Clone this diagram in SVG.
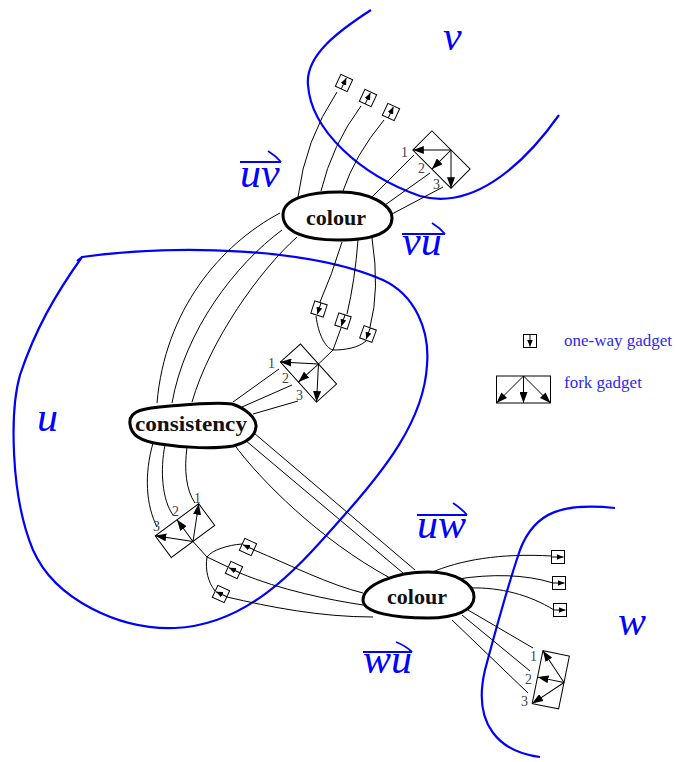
<svg xmlns="http://www.w3.org/2000/svg" xmlns:xlink="http://www.w3.org/1999/xlink" width="677" height="762" viewBox="0 0 677 762">
<style>
  .region { fill: none; stroke: #0000ff; stroke-width: 2.2; }
  .rlabel { font-family: "Liberation Serif", "DejaVu Serif", serif; font-style: italic; font-size: 42px; fill: #0000ff; }
  .vec { fill: none; stroke: #0000ff; stroke-width: 1.8; }
  .wire { fill: none; stroke: #000; stroke-width: 1; }
  .blob { fill: #fff; stroke: #000; stroke-width: 3; }
  .name { font-family: "Liberation Serif", "DejaVu Serif", serif; font-weight: bold; font-size: 20px; fill: #111; }
  .gad { fill: #fff; stroke: #000; stroke-width: 1; }
  .num { font-family: "Liberation Serif", "DejaVu Serif", serif; font-size: 14px; fill: #444; }
  .legend { font-family: "Liberation Serif", "DejaVu Serif", serif; font-size: 17px; fill: #2a2af0; }
</style>
<defs>
  <marker id="ah" viewBox="0 0 11 8" refX="11" refY="4" markerWidth="11" markerHeight="8" markerUnits="userSpaceOnUse" orient="auto">
    <path d="M0,0 L11,4 L0,8 z" fill="#000"/>
  </marker>
  <marker id="ahs" viewBox="0 0 7 6" refX="7" refY="3" markerWidth="7" markerHeight="6" markerUnits="userSpaceOnUse" orient="auto">
    <path d="M0,0 L7,3 L0,6 z" fill="#000"/>
  </marker>
  <!-- one-way gadget: arrow along local +y -->
  <g id="ow">
    <rect class="gad" x="-6.5" y="-6.5" width="13" height="13"/>
    <line x1="0" y1="-6.5" x2="0" y2="5.5" stroke="#000" stroke-width="1" marker-end="url(#ahs)"/>
  </g>
  <!-- fork gadget: origin at the middle of the top edge -->
  <g id="fork">
    <rect class="gad" x="-27" y="0" width="54" height="27"/>
    <g stroke="#000" stroke-width="1">
      <line x1="0" y1="0" x2="-27" y2="27" marker-end="url(#ah)"/>
      <line x1="0" y1="0" x2="0" y2="27" marker-end="url(#ah)"/>
      <line x1="0" y1="0" x2="27" y2="27" marker-end="url(#ah)"/>
    </g>
  </g>
</defs>

<!-- vertex regions -->
<g id="regions">
  <path class="region" d="M371,10 C340,30 305,55 308,85 C311,130 360,175 420,196 C470,210 520,170 559,115"/>
  <path class="region" d="M77,261 L82,257 C180,244 310,248 383,280 C415,295 430,330 427,365 C424,420 385,470 340,520 C300,565 250,625 175,628 C120,630 55,600 33,550 C10,495 10,410 20,375 C35,330 55,295 82,257"/>
  <path class="region" d="M615,508 C565,503 535,510 520,550 C508,585 497,625 485,670 C472,725 500,752 540,757"/>
  <text class="rlabel" x="443" y="50">v</text>
  <text class="rlabel" x="37" y="431">u</text>
  <text class="rlabel" x="618" y="635">w</text>
</g>

<!-- arc labels -->
<g id="arc-labels">
  <text class="rlabel" x="240" y="187">uv</text>
  <path class="vec" d="M240,162 L281,162 M268,151 Q276,156 281,162"/>
  <text class="rlabel" x="402" y="255">vu</text>
  <path class="vec" d="M402,234 L445,234 M432,223 Q440,228 445,234"/>
  <text class="rlabel" x="417" y="538">uw</text>
  <path class="vec" d="M417,515 L467,515 M453,503 Q462,509 467,515"/>
  <text class="rlabel" x="363" y="673">wu</text>
  <path class="vec" d="M363,652 L412,652 M396,642 Q406,646 412,652"/>
</g>

<!-- connectors -->
<g id="connectors">
  <!-- colour(top) to v one-way gadgets -->
  <path class="wire" d="M298,197 Q305,140 337,92"/>
  <path class="wire" d="M321,191 Q332,145 361,106"/>
  <path class="wire" d="M343,191 Q355,155 384,120"/>
  <!-- colour(top) to top fork -->
  <path class="wire" d="M372,197 L414,155"/>
  <path class="wire" d="M385,205 L430,173"/>
  <path class="wire" d="M392,214 L443,187"/>
  <!-- colour(top) to middle one-way gadgets -->
  <path class="wire" d="M342,242 Q332,275 320,302"/>
  <path class="wire" d="M358,240 Q355,280 347,314"/>
  <path class="wire" d="M372,238 Q380,290 370,327"/>
  <!-- merge into middle fork -->
  <path class="wire" d="M316,316 C318,333 325,348 333,350"/>
  <path class="wire" d="M341,328 L333,350"/>
  <path class="wire" d="M366,341 C358,348 345,350 333,350"/>
  <path class="wire" d="M333,350 L318.5,364"/>
  <!-- consistency to middle fork -->
  <path class="wire" d="M233,402 L279,369"/>
  <path class="wire" d="M242,407 L292,385"/>
  <path class="wire" d="M253,414 L298,401"/>
  <!-- colour(top) to consistency -->
  <path class="wire" d="M280,213 C220,245 165,310 157,403"/>
  <path class="wire" d="M282,230 C235,265 185,330 172,403"/>
  <path class="wire" d="M297,237 C260,270 210,340 192,402"/>
  <!-- consistency to bottom-left fork -->
  <path class="wire" d="M153,443 C144,475 146,505 157,527"/>
  <path class="wire" d="M165,445 C160,470 162,500 173,515"/>
  <path class="wire" d="M187,447 C184,470 186,490 195,503"/>
  <!-- consistency to colour(bottom) -->
  <path class="wire" d="M254,433 L415,570"/>
  <path class="wire" d="M245,440 L403,573"/>
  <path class="wire" d="M233,443 C260,480 320,540 390,578"/>
  <!-- colour(bottom) to left one-way gadgets -->
  <path class="wire" d="M363,593 C330,585 290,565 254,550"/>
  <path class="wire" d="M363,605 C330,600 280,590 240,573"/>
  <path class="wire" d="M373,617 C320,617 270,607 227,597"/>
  <!-- merge into bottom-left fork -->
  <path class="wire" d="M242,544 C228,545 212,550 207,557"/>
  <path class="wire" d="M228,567 L207,557"/>
  <path class="wire" d="M215,591 C208,582 205,570 207,557"/>
  <path class="wire" d="M207,557 L193,541.5"/>
  <!-- colour(bottom) to w one-way gadgets -->
  <path class="wire" d="M430,573 C460,560 500,553 552,556"/>
  <path class="wire" d="M458,579 C490,574 525,574 553,583"/>
  <path class="wire" d="M470,588 C500,587 530,595 554,610"/>
  <!-- colour(bottom) to bottom-right fork -->
  <path class="wire" d="M468,610 L533,648"/>
  <path class="wire" d="M462,615 L530,671"/>
  <path class="wire" d="M452,620 L528,693"/>
</g>

<!-- gadgets -->
<g id="gadgets-v">
  <use href="#ow" transform="translate(344,83) rotate(205)"/>
  <use href="#ow" transform="translate(368,98) rotate(205)"/>
  <use href="#ow" transform="translate(391,112) rotate(205)"/>
</g>
<g id="fork-v">
  <use href="#fork" transform="translate(451,150) rotate(45)"/>
  <text class="num" x="401" y="157">1</text>
  <text class="num" x="418" y="173">2</text>
  <text class="num" x="433" y="189">3</text>
</g>
<g id="gadgets-mid">
  <use href="#ow" transform="translate(319,309) rotate(18)"/>
  <use href="#ow" transform="translate(343,321) rotate(18)"/>
  <use href="#ow" transform="translate(368,334) rotate(20)"/>
</g>
<g id="fork-mid">
  <use href="#fork" transform="translate(318.5,364) rotate(48)"/>
  <text class="num" x="268" y="368">1</text>
  <text class="num" x="282" y="383">2</text>
  <text class="num" x="296" y="400">3</text>
</g>
<g id="fork-low">
  <use href="#fork" transform="translate(193,541.5) rotate(143.6)"/>
  <text class="num" x="194" y="503">1</text>
  <text class="num" x="172" y="516">2</text>
  <text class="num" x="153" y="531">3</text>
</g>
<g id="gadgets-low">
  <use href="#ow" transform="translate(248,547) rotate(115)"/>
  <use href="#ow" transform="translate(234,570) rotate(115)"/>
  <use href="#ow" transform="translate(221,594) rotate(115)"/>
</g>
<g id="gadgets-w">
  <use href="#ow" transform="translate(558,557) rotate(-90)"/>
  <use href="#ow" transform="translate(559,583) rotate(-90)"/>
  <use href="#ow" transform="translate(560,610) rotate(-90)"/>
</g>
<g id="fork-w">
  <use href="#fork" transform="translate(564,682.5) rotate(101.5)"/>
  <text class="num" x="530" y="661">1</text>
  <text class="num" x="525" y="684">2</text>
  <text class="num" x="521" y="706">3</text>
</g>

<!-- nodes -->
<g id="colour-top">
  <path class="blob" d="M283,215 C283,198 310,192 340,192 C370,192 392,205 392,218 C392,233 372,240 338,240 C305,240 283,232 283,215 Z"/>
  <text class="name" x="306" y="225" textLength="60" lengthAdjust="spacingAndGlyphs">colour</text>
</g>
<g id="consistency">
  <path class="blob" d="M130,424 C128,410 145,408 170,406 C195,404 215,402 232,404 C245,408 257,418 256,427 C255,437 245,443 233,446 C215,449 185,448 160,444 C140,441 131,435 130,424 Z"/>
  <text class="name" x="135" y="431" textLength="112" lengthAdjust="spacingAndGlyphs">consistency</text>
</g>
<g id="colour-bottom">
  <path class="blob" d="M363,600 C363,585 395,572 428,572 C456,572 474,584 474,597 C474,610 456,618 428,618 C395,618 363,613 363,600 Z"/>
  <text class="name" x="387" y="604" textLength="60" lengthAdjust="spacingAndGlyphs">colour</text>
</g>

<!-- key -->
<g id="legend">
  <use href="#ow" transform="translate(530,341)"/>
  <text class="legend" x="564" y="346">one-way gadget</text>
  <use href="#fork" transform="translate(523.5,376)"/>
  <text class="legend" x="564" y="388">fork gadget</text>
</g>
</svg>
